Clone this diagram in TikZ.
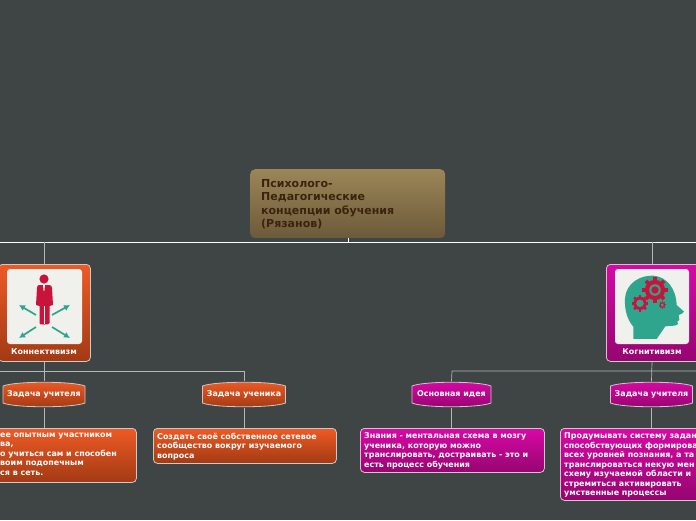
\documentclass[tikz,border=0pt]{standalone}
\usepackage{fontspec}
\setmainfont{DejaVu Sans}
\usetikzlibrary{arrows.meta}
\definecolor{bgc}{HTML}{3F4445}
\definecolor{oT}{HTML}{EE5A24}
\definecolor{oB}{HTML}{A23A14}
\definecolor{mT}{HTML}{D808A6}
\definecolor{mB}{HTML}{960570}
\definecolor{tT}{HTML}{9C8657}
\definecolor{tB}{HTML}{6B5A3A}
\definecolor{ttx}{HTML}{3A2410}
\definecolor{edgec}{HTML}{C9CBCB}
\definecolor{tealc}{HTML}{2FA58E}
\definecolor{redc}{HTML}{C8133A}
\definecolor{tilec}{HTML}{F0F0EC}
\tikzset{
  x=1pt,y=-1pt,
  orange/.style={top color=oT,bottom color=oB},
  magenta/.style={top color=mT,bottom color=mB},
  card/.style={draw=edgec,line width=.8pt,rounded corners=4pt,inner sep=0pt,anchor=north west},
  txt/.style={text=white,font=\bfseries\fontsize{7.95}{9.5}\selectfont,align=left,inner sep=0pt},
  lbl/.style={text=white,font=\bfseries\fontsize{7.95}{9.5}\selectfont,inner sep=0pt},
  drumnode/.style={minimum height=26pt,inner sep=0pt,anchor=center},
  wire/.style={draw=edgec!85!bgc,line width=.7pt},
  mainwire/.style={draw=white,line width=.8pt},
  tile/.style={fill=tilec,rounded corners=3pt,draw=none},
  arr/.style={draw=tealc,line width=1.7pt,-{Latex[length=6pt,width=6.5pt]}},
}
\newcommand{\drumshape}[4]{% cx, half width, style, name
  \path[draw=edgec,line width=.8pt,#3]
    (#1-#2,386) .. controls (#1-#2+12,381) and (#1+#2-12,381) .. (#1+#2,386)
    -- (#1+#2,403) .. controls (#1+#2-12,408) and (#1-#2+12,408) .. (#1-#2,403) -- cycle;
  \node[lbl,drumnode,minimum width=#2*2pt] (#4) at (#1,394.5) {};
}
\newcommand{\gear}[3]{% cx cy r
  \foreach \a in {0,45,...,315}{
    \fill[redc] (#1,#2) ++(\a-11:#3*1.02) -- ++(\a:#3*.32) -- ++(\a+90:#3*.38) -- ++(\a+180:#3*.32) -- cycle;
  }
  \fill[redc] (#1,#2) circle[radius=#3*1.05];
  \fill[tealc] (#1,#2) circle[radius=#3*.6];
}
\begin{document}
\begin{tikzpicture}
\path[use as bounding box,clip] (0,0) rectangle (696,520);
\fill[bgc] (0,0) rectangle (696,520);
% title
\node[anchor=north west,inner sep=0pt,minimum width=195pt,minimum height=69pt,rounded corners=5pt,draw=none,
  top color=tT,bottom color=tB] (title) at (250,169) {};
\node[anchor=north west,inner sep=0pt,align=left,font=\bfseries\fontsize{11}{13.4}\selectfont,text=ttx] (titletext) at (261,179) {Психолого-\\Педагогические\\концепции обучения\\(Рязанов)};
% wires coordinates
\coordinate (hl) at (0,242);
\coordinate (hr) at (696,242);
\coordinate (h1) at (44,242);
\coordinate (h2) at (652,242);
\coordinate (h0) at (348,242);
\coordinate (gl) at (0,371);
\coordinate (gr) at (696,371);
\coordinate (gl1) at (44,371);
\coordinate (gr1) at (652,371);
\coordinate (gl2) at (244,371);
\coordinate (gr2) at (452,371);
% main cards
\node[card,orange,minimum width=92pt,minimum height=97pt] (conn) at (-2,264) {};
\node[card,magenta,minimum width=94pt,minimum height=97pt] (cogn) at (606,264) {};
\node[lbl] (connl) at (44,351.5) {Коннективизм};
\node[lbl] (cognl) at (652,351.5) {Когнитивизм};
\path[tile] (7,269) rectangle (82,344);
\path[tile] (615,269) rectangle (689,344);
% man icon
\fill[redc] (44,279) circle[radius=4.6];
\fill[redc] (39,285) -- (49,285) .. controls (51,285) and (52,286) .. (52,288) -- (53,305) -- (49.5,306) -- (49.5,323) .. controls (49.5,324) and (48,324.5) .. (44.5,324.5) -- (43.5,324.5) .. controls (40,324.5) and (39.5,324) .. (39.5,323) -- (39.5,306) -- (36,305) -- (37,288) .. controls (37,286) and (38,285) .. (39,285) -- cycle;
\draw[tilec,line width=.5pt] (44,306) -- (44,324);
\fill[tilec] (43,285) -- (45,285) -- (44.4,291) -- (43.6,291) -- cycle;
\coordinate (a0) at (36,315); \coordinate (a1) at (19,305);
\coordinate (b0) at (52,315); \coordinate (b1) at (70,305);
\coordinate (c0) at (36,327); \coordinate (c1) at (19,338);
\coordinate (d0) at (52,327); \coordinate (d1) at (70,338);
\draw[arr] (a0) -- (a1);
\draw[arr] (b0) -- (b1);
\draw[arr] (c0) -- (c1);
\draw[arr] (d0) -- (d1);
% head icon
\begin{scope}[shift={(590,255)},x=.3333pt,y=-.3333pt]
\fill[tealc] (130,252) -- (130,215) .. controls (112,195) and (103,165) .. (105,130)
 .. controls (108,85) and (150,60) .. (190,62)
 .. controls (230,65) and (258,100) .. (260,150) -- (282,170)
 .. controls (280,175) and (272,178) .. (266,180) -- (268,195) -- (262,200) -- (264,207)
 .. controls (260,214) and (240,212) .. (226,214) -- (200,252) -- cycle;
\gear{195}{105}{29}
\gear{150}{145}{19}
\gear{217}{150}{8}
\fill[redc] (195,105) circle[radius=11];
\end{scope}
% drums
\drumshape{44}{41}{orange}{dr1}
\drumshape{244}{41.5}{orange}{dr2}
\drumshape{451.5}{39.5}{magenta}{dr3}
\drumshape{651.5}{41}{magenta}{dr4}
\node[lbl] at (dr1) {Задача учителя};
\node[lbl] at (dr2) {Задача ученика};
\node[lbl] at (dr3) {Основная идея};
\node[lbl] at (dr4) {Задача учителя};
% boxes
\node[card,orange,minimum width=144pt,minimum height=54pt] (b1n) at (-8,428) {};
\node[card,orange,minimum width=183pt,minimum height=35pt] (b2n) at (153,428) {};
\node[card,magenta,minimum width=184pt,minimum height=44pt] (b3n) at (360,428) {};
\node[card,magenta,minimum width=146pt,minimum height=72pt] (b4n) at (560,428) {};
\node[txt,anchor=north west] (t1) at (0,432.5) {ее опытным участником\\ва,\\о учиться сам и способен\\воим подопечным\\ся в сеть.};
\node[txt,anchor=north west] (t2) at (157,432.5) {Создать своё собственное сетевое\\сообщество вокруг изучаемого\\вопроса};
\node[txt,anchor=north west] (t3) at (364,432.5) {Знания - ментальная схема в мозгу\\ученика, которую можно\\транслировать, достраивать - это и\\есть процесс обучения};
\node[txt,anchor=north west] (t4) at (564,432.5) {Продумывать систему задан\\способствующих формирова\\всех уровней познания, а та\\транслироваться некую мен\\схему изучаемой области и\\стремиться активировать\\умственные процессы};
% connectors
\draw[mainwire] (hl) -- (hr);
\draw[mainwire] (title.south -| h0) -- (h0);
\draw[wire] (h1) -- (h1 |- conn.north);
\draw[wire] (h2) -- (h2 |- cogn.north);
\draw[wire] (gl) -- (gl2) -- (dr2.north);
\draw[wire] (gr) -- (gr2) -- (dr3.north);
\draw[wire] (gl1 |- conn.south) -- (dr1.north);
\draw[wire] (gr1 |- cogn.south) -- (dr4.north);
\draw[wire] (dr1.south) -- (b1n.north -| dr1);
\draw[wire] (dr2.south) -- (b2n.north -| dr2);
\draw[wire] (dr3.south) -- (b3n.north -| dr3);
\draw[wire] (dr4.south) -- (b4n.north -| dr4);
\end{tikzpicture}
\end{document}
